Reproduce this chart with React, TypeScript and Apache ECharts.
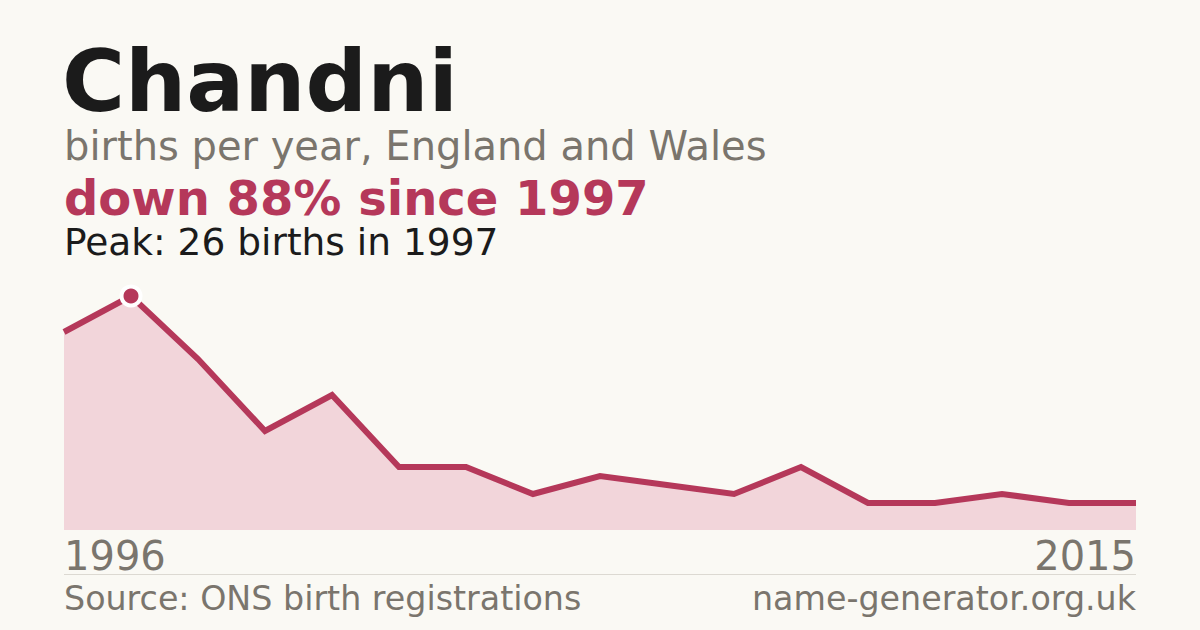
import React, { useEffect, useRef } from "react";
import * as echarts from "echarts";

const NAME = "Chandni";
const SUBTITLE = "births per year, England and Wales";
const CHANGE_TEXT = "down 88% since 1997";
const PEAK_TEXT = "Peak: 26 births in 1997";
const SOURCE_TEXT = "Source: ONS birth registrations";
const SITE_TEXT = "name-generator.org.uk";

const years = [
  "1996", "1997", "1998", "1999", "2000", "2001", "2002", "2003", "2004",
  "2005", "2006", "2007", "2008", "2009", "2011", "2012", "2015",
];
const births = [22, 26, 19, 11, 15, 7, 7, 4, 6, 5, 4, 7, 3, 3, 4, 3, 3];

const BG = "#faf9f4";
const RED = "#b5385a";
const AREA = "#f2d5da";
const GREY = "#7a756d";
const DARK = "#1b1b1b";
const FONT = "DejaVu Sans";

export default function App() {
  const ref = useRef<HTMLDivElement>(null);

  useEffect(() => {
    if (!ref.current) return;
    const chart = echarts.init(ref.current, undefined, { renderer: "svg" });
    let peakIdx = 0;
    births.forEach((v, i) => {
      if (v > births[peakIdx]) peakIdx = i;
    });
    const lastIdx = years.length - 1;
    chart.setOption({
      animation: false,
      backgroundColor: BG,
      grid: { left: 64, right: 64, top: 296, height: 234, containLabel: false },
      xAxis: {
        type: "category",
        data: years,
        boundaryGap: false,
        axisLine: { show: false },
        axisTick: { show: false },
        splitLine: { show: false },
        axisLabel: {
          interval: (i: number) => i === 0 || i === lastIdx,
          color: GREY,
          fontFamily: FONT,
          fontSize: 40,
          margin: 6,
          alignMinLabel: "left",
          alignMaxLabel: "right",
          showMinLabel: true,
          showMaxLabel: true,
        },
      },
      yAxis: {
        type: "value",
        min: 0,
        max: 26,
        show: false,
        splitLine: { show: false },
      },
      series: [
        {
          type: "line",
          data: births,
          showSymbol: false,
          symbol: "none",
          lineStyle: { color: RED, width: 6, join: "miter" },
          areaStyle: { color: AREA, opacity: 1 },
          z: 2,
        },
        {
          type: "scatter",
          data: [[peakIdx, births[peakIdx]]],
          symbol: "circle",
          symbolSize: 19,
          itemStyle: { color: RED, borderColor: "#ffffff", borderWidth: 4, opacity: 1 },
          emphasis: { disabled: true },
          z: 3,
        },
      ],
      graphic: [
        {
          type: "text",
          x: 62,
          y: 81,
          style: {
            text: NAME,
            font: `bold 86px "${FONT}"`,
            fill: DARK,
            verticalAlign: "middle",
          },
        },
        {
          type: "text",
          x: 64,
          y: 146,
          style: {
            text: SUBTITLE,
            font: `40px "${FONT}"`,
            fill: GREY,
            verticalAlign: "middle",
          },
        },
        {
          type: "text",
          x: 64,
          y: 198,
          style: {
            text: CHANGE_TEXT,
            font: `bold 48px "${FONT}"`,
            fill: RED,
            verticalAlign: "middle",
          },
        },
        {
          type: "text",
          x: 64,
          y: 242,
          style: {
            text: PEAK_TEXT,
            font: `37.5px "${FONT}"`,
            fill: DARK,
            verticalAlign: "middle",
          },
        },
        {
          type: "line",
          shape: { x1: 64, y1: 574.5, x2: 1136, y2: 574.5 },
          style: { stroke: "#dcd9d2", lineWidth: 1 },
        },
        {
          type: "text",
          x: 64,
          y: 598,
          style: {
            text: SOURCE_TEXT,
            font: `33.3px "${FONT}"`,
            fill: GREY,
            verticalAlign: "middle",
          },
        },
        {
          type: "text",
          x: 1136,
          y: 598,
          style: {
            text: SITE_TEXT,
            font: `33.3px "${FONT}"`,
            fill: GREY,
            align: "right",
            verticalAlign: "middle",
          },
        },
      ],
    });
    return () => chart.dispose();
  }, []);

  return (
    <div
      ref={ref}
      style={{ position: "fixed", left: 0, top: 0, width: 1200, height: 630 }}
    />
  );
}
